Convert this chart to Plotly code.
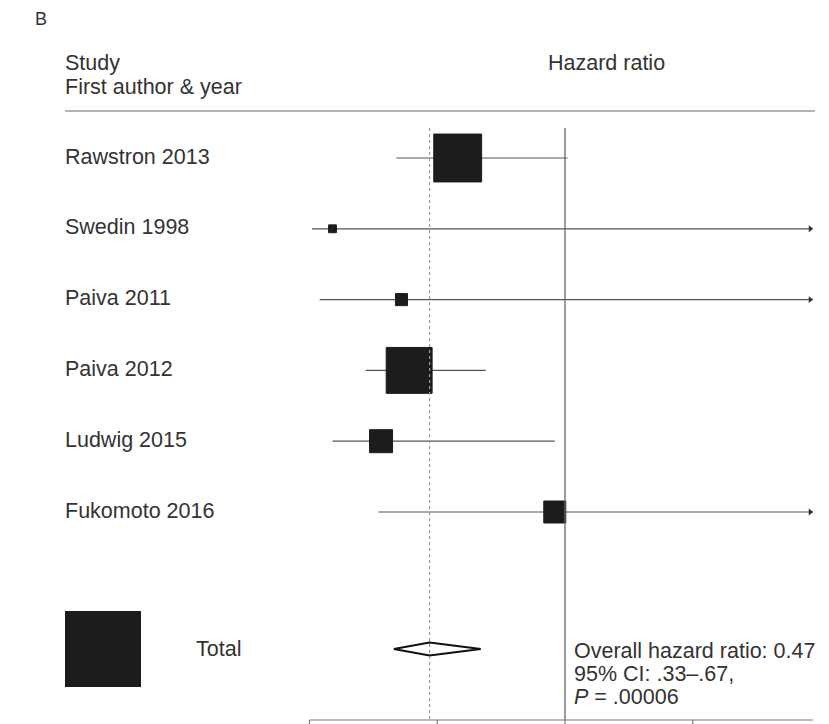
import math
import plotly.graph_objects as go

# Forest plot: hazard ratios of the individual studies and the pooled estimate
studies = ["Rawstron 2013", "Swedin 1998", "Paiva 2011", "Paiva 2012",
           "Ludwig 2015", "Fukomoto 2016"]
hazard_ratio = [0.58, 0.09, 0.36, 0.39, 0.28, 0.96]
ci_lower = [0.34, 0.01, 0.04, 0.22, 0.09, 0.27]
ci_upper = [1.01, 5.00, 2.90, 0.69, 0.96, 3.40]
weight_pct = [40.8, 1.1, 2.6, 37.5, 9.4, 8.6]

overall_hr = 0.47
overall_lower = 0.33
overall_upper = 0.67
overall_p = ".00006"

axis_ticks = [0, 0.5, 1.0, 1.5]
AXIS_END = 1.97          # right end of the drawn axis line

W, H = 829, 724
FONT = "Liberation Sans, Arial, Helvetica, sans-serif"
TXT = "#333333"
FS = 21.5

# layout helpers: x axis maps 0 -> 309.5 px, 1 -> 565 px; rows are 70.8 px apart
X0_PX, X_UNIT = 309.5, 255.5
ROW0_PX, ROW_PX = 158.0, 70.8
x_range = [(0 - X0_PX) / X_UNIT, (W - X0_PX) / X_UNIT]
y_range = [(H - ROW0_PX) / ROW_PX, (0 - ROW0_PX) / ROW_PX]


def py(px):
    """vertical pixel position -> row coordinate"""
    return (px - ROW0_PX) / ROW_PX


def px_paper_x(px):
    return px / W


def px_paper_y(px):
    return 1 - px / H


TOTAL_ROW = py(649)
TOP_ROW = py(128)
AXIS_ROW = py(720)

fig = go.Figure()
rows = list(range(len(studies)))

# confidence interval whiskers (clipped to the axis, with arrows when beyond it)
ci_x, ci_y, arrow_x, arrow_y = [], [], [], []
for r, lo, hi in zip(rows, ci_lower, ci_upper):
    right = min(hi, AXIS_END - 0.01)
    ci_x += [max(lo, 0), right, None]
    ci_y += [r, r, None]
    if hi > AXIS_END:
        arrow_x.append(right)
        arrow_y.append(r)

fig.add_trace(go.Scatter(x=ci_x, y=ci_y, mode="lines",
                         line=dict(color="#555555", width=1.2),
                         hoverinfo="skip"))
fig.add_trace(go.Scatter(x=arrow_x, y=arrow_y, mode="markers",
                         marker=dict(symbol="triangle-right", size=6,
                                     color="#333333", opacity=1),
                         hoverinfo="skip"))

# reference lines: null effect (HR = 1) and pooled estimate
fig.add_shape(type="line", x0=1, x1=1, y0=TOP_ROW, y1=AXIS_ROW,
              line=dict(color="#666666", width=1.3))
fig.add_shape(type="line", x0=overall_hr, x1=overall_hr, y0=TOP_ROW,
              y1=AXIS_ROW, line=dict(color="#999999", width=1.2,
                                     dash="3px,3px"))

# study point estimates, square area proportional to weight
fig.add_trace(go.Scatter(
    x=hazard_ratio, y=rows, mode="markers", opacity=1,
    marker=dict(symbol="square", color="#1c1c1c", opacity=1,
                size=[7.5 * math.sqrt(w) for w in weight_pct],
                line=dict(color="#1c1c1c", width=1)),
    text=studies, hovertemplate="%{text}: HR %{x}<extra></extra>"))

# pooled estimate diamond
dh = 0.092
fig.add_trace(go.Scatter(
    x=[overall_lower, overall_hr, overall_upper, overall_hr, overall_lower],
    y=[TOTAL_ROW, TOTAL_ROW - dh, TOTAL_ROW, TOTAL_ROW + dh, TOTAL_ROW],
    mode="lines", line=dict(color="#111111", width=2),
    fill="toself", fillcolor="white", hoverinfo="skip"))

# bottom axis
fig.add_shape(type="line", x0=0, x1=AXIS_END, y0=AXIS_ROW, y1=AXIS_ROW,
              line=dict(color="#777777", width=1.2))
for t in axis_ticks:
    fig.add_shape(type="line", x0=t, x1=t, y0=AXIS_ROW, y1=AXIS_ROW + 0.12,
                  line=dict(color="#777777", width=1.2))

# header rule
fig.add_shape(type="line", xref="paper", yref="paper",
              x0=px_paper_x(65), x1=px_paper_x(815),
              y0=px_paper_y(111), y1=px_paper_y(111),
              line=dict(color="#9a9a9a", width=1.6))

# "Total" legend box
fig.add_shape(type="rect", xref="paper", yref="paper",
              x0=px_paper_x(65), x1=px_paper_x(141),
              y0=px_paper_y(687), y1=px_paper_y(611),
              fillcolor="#1c1c1c", line=dict(width=0))

ann = []


def label(text, xpx, ypx, size=FS, xanchor="left"):
    ann.append(dict(text=text, xref="paper", yref="paper",
                    x=px_paper_x(xpx), y=px_paper_y(ypx),
                    xanchor=xanchor, yanchor="middle", showarrow=False,
                    font=dict(family=FONT, size=size, color=TXT)))


label("B", 33, 19, size=18)
label("Study", 63, 63)
label("First author &amp; year", 63, 87)
label("Hazard ratio", 546, 63)

for r, name in zip(rows, studies):
    ann.append(dict(text=name, xref="paper", yref="y",
                    x=px_paper_x(63), y=r - 0.02, xanchor="left",
                    yanchor="middle", showarrow=False,
                    font=dict(family=FONT, size=FS, color=TXT)))

label("Total", 194, 649)
label(f"Overall hazard ratio: {overall_hr:.2f}", 572, 651)
label(f"95% CI: {str(overall_lower)[1:]}\u2013{str(overall_upper)[1:]},",
      572, 674)
label(f"<i>P</i> = {overall_p}", 572, 697)

fig.update_layout(
    width=W, height=H, margin=dict(l=0, r=0, t=0, b=0),
    paper_bgcolor="white", plot_bgcolor="white", showlegend=False,
    annotations=ann,
    xaxis=dict(range=x_range, visible=False, fixedrange=True),
    yaxis=dict(range=y_range, visible=False, fixedrange=True),
)

fig.write_html("out.html")
